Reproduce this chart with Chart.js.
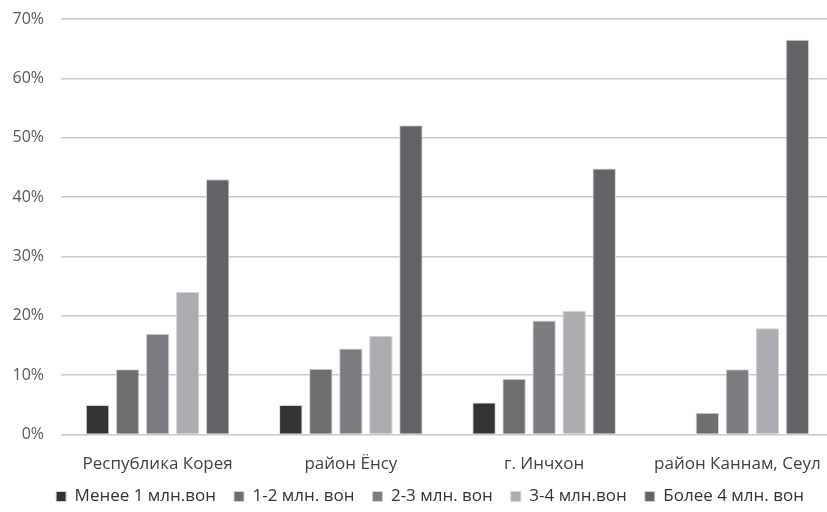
<!DOCTYPE html>
<html>
<head>
<meta charset="utf-8">
<script src="https://cdn.jsdelivr.net/npm/chart.js@4/dist/chart.umd.min.js"></script>
<style>
  html, body { margin: 0; padding: 0; background: #fff; overflow: hidden; }
  #wrap { width: 834px; height: 512px; }
</style>
</head>
<body>
<div id="wrap"><canvas id="c" width="834" height="512"></canvas></div>
<script>
// Доля домохозяйств по уровню месячного дохода, %
const categories = ['Республика Корея', 'район Ёнсу', 'г. Инчхон', 'район Каннам, Сеул'];
const seriesNames = ['Менее 1 млн.вон', '1-2 млн. вон', '2-3 млн. вон', '3-4 млн.вон', 'Более 4 млн. вон'];
const under1 = [5.0, 5.0, 5.4, null];
const from1to2 = [11.0, 11.1, 9.4, 3.7];
const from2to3 = [17.0, 14.5, 19.2, 11.0];
const from3to4 = [24.0, 16.6, 20.8, 17.9];
const over4 = [43.0, 52.1, 44.8, 66.5];
const yTicks = [0, 10, 20, 30, 40, 50, 60, 70];

const colors = ['#333333', '#6e6e71', '#7b7c80', '#abacaf', '#636467'];
const values = [under1, from1to2, from2to3, from3to4, over4];

const datasets = seriesNames.map((name, i) => ({
  label: name,
  data: values[i],
  backgroundColor: colors[i],
  borderColor: '#d4d4d6',
  borderWidth: 1,
  categoryPercentage: 0.777,
  barPercentage: 0.78
}));

const font = "'Open Sans', 'Noto Sans', sans-serif";

// Legend: wide gaps between items but a compact box height, nudged right a little
const legendLayout = {
  id: 'legendLayout',
  afterInit(chart) {
    const lg = chart.legend;
    const fit = lg.fit.bind(lg);
    lg.fit = function () { fit(); this.height -= 18; };
  },
  afterLayout(chart) {
    const lg = chart.legend;
    lg.left += 13;
    lg.right += 13;
    lg.top -= 15;
  }
};

new Chart(document.getElementById('c'), {
  type: 'bar',
  data: { labels: categories, datasets },
  plugins: [legendLayout],
  options: {
    responsive: false,
    animation: false,
    devicePixelRatio: 1,
    layout: { padding: { top: 19, right: 0, left: 0, bottom: 0 } },
    plugins: {
      tooltip: { enabled: false },
      legend: {
        position: 'bottom',
        labels: {
          boxWidth: 10,
          boxHeight: 10,
          padding: 18,
          color: '#333333',
          font: { family: font, size: 17 }
        }
      }
    },
    scales: {
      x: {
        grid: { display: false },
        border: { display: false },
        ticks: {
          color: '#404040',
          padding: 11,
          font: { family: font, size: 17 }
        }
      },
      y: {
        min: 0,
        max: 70,
        afterFit: (axis) => {
          // fixed axis width; the tick labels need no extra room above the plot
          axis.width = 61;
          axis.paddingTop = 0;
          axis.paddingBottom = 0;
        },
        afterBuildTicks: (axis) => { axis.ticks = yTicks.map(v => ({ value: v })); },
        grid: { color: '#c9c9cb', lineWidth: 1.5, drawTicks: false },
        border: { display: false },
        ticks: {
          color: '#595959',
          padding: 17,
          font: { family: font, size: 16 },
          callback: (v) => v + '%'
        }
      }
    }
  }
});
</script>
</body>
</html>
